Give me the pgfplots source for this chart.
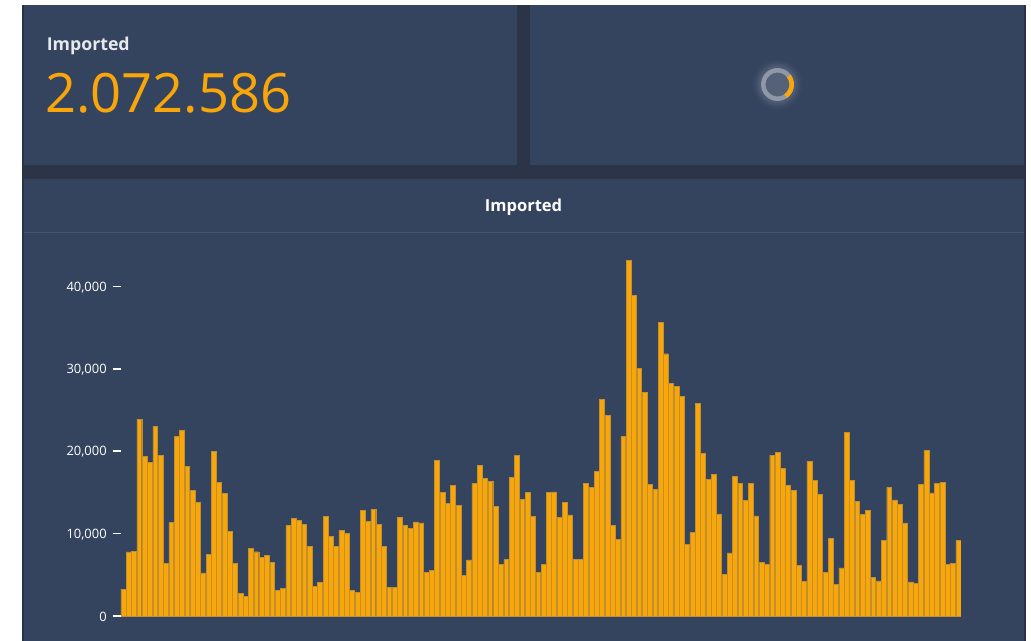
\documentclass[border=0pt]{standalone}
\usepackage{fontspec}
\setmainfont{Open Sans}
\usepackage{pgfplots}
\usepackage{pgfplotstable}
\pgfplotsset{compat=1.18}
\definecolor{panel}{HTML}{34435E}
\definecolor{gapdark}{HTML}{2C3547}
\definecolor{edgedark}{HTML}{2A3345}
\definecolor{rule}{HTML}{465570}
\definecolor{barfill}{HTML}{F9A60B}
\definecolor{baredge}{HTML}{C08F30}

\pgfplotstableread{
n v
1 3277
2 7770
3 7850
4 23900
5 19400
6 18650
7 23060
8 19460
9 6430
10 11330
11 21760
12 22570
13 18120
14 15290
15 13750
16 5220
17 7520
18 20020
19 16260
20 14850
21 10270
22 6350
23 2790
24 2350
25 8170
26 7800
27 7080
28 7320
29 6550
30 3155
31 3320
32 11040
33 11890
34 11570
35 11080
36 8410
37 3640
38 4045
39 12090
40 9670
41 8450
42 10400
43 10030
44 3115
45 2830
46 12780
47 11490
48 12940
49 11120
50 8410
51 3520
52 3440
53 11970
54 10960
55 10680
56 11410
57 11290
58 5260
59 5580
60 18890
61 15010
62 13670
63 15820
64 13430
65 4890
66 6800
67 16140
68 18320
69 16670
70 16300
71 13310
72 6230
73 6840
74 16870
75 19500
76 14120
77 14970
78 12090
79 5260
80 6310
81 15010
82 15050
83 12010
84 13790
85 12260
86 6840
87 6840
88 16140
89 15610
90 17510
91 26330
92 24350
93 10960
94 9260
95 21760
96 43170
97 38920
98 30020
99 27100
100 15980
101 15410
102 35680
103 31830
104 28240
105 27910
106 26660
107 8660
108 10150
109 25850
110 19700
111 16580
112 17190
113 12380
114 5020
115 7650
116 16990
117 16100
118 14000
119 16100
120 12140
121 6470
122 6230
123 19540
124 19900
125 17920
126 15820
127 15210
128 6190
129 4170
130 18730
131 16500
132 14720
133 5300
134 9380
135 3840
136 5830
137 22290
138 16500
139 13870
140 12300
141 12860
142 4650
143 4250
144 9140
145 15650
146 14080
147 13550
148 11290
149 4130
150 3920
151 15940
152 20060
153 14930
154 16100
155 16180
156 6310
157 6350
158 9220
}\imported

\begin{document}
\begin{tikzpicture}
% x and y in this scope are screen pixels of the reference, y going down
\begin{scope}[x=0.75pt,y=-0.75pt]
\useasboundingbox (0,0) rectangle (1031,641);
\fill[white] (0,0) rectangle (1031,641);
\fill[edgedark] (22,5) rectangle (1026,641);
\fill[gapdark] (24,5) rectangle (1024,179);
% panels
\fill[panel] (24,5) rectangle (517,165);
\fill[panel] (530,5) rectangle (1024,165);
\fill[panel] (24,179) rectangle (1024,641);
\draw[rule, line width=0.75pt] (24,232.5) -- (1024,232.5);

% big number panel
\node[anchor=base west, inner sep=0pt, text=white!88!panel, font=\fontsize{13.3pt}{15pt}\selectfont\bfseries] at (46.5,51) {Imported};
\node[anchor=base west, inner sep=0pt, text=barfill, font=\fontsize{40.7pt}{44pt}\selectfont] at (45,113) {2.072.586};

% spinner
\foreach \r/\o in {25/0.02,23/0.03,21/0.04,19/0.05}
  \fill[white, opacity=\o] (777.5,84.5) circle[radius=\r*0.75pt];
\fill[white!16!panel] (777.5,84.5) circle[radius=14*0.75pt];
\draw[white!45!panel, line width=3.4pt] (777.5,84.5) circle[radius=14.2*0.75pt];
\draw[barfill, line width=3.4pt] ({777.5+14.2*cos(55)},{84.5+14.2*sin(55)}) arc[start angle=-55, end angle=37, radius=14.2*0.75pt];

% chart header
\node[text=white, font=\fontsize{12.4pt}{15pt}\selectfont\bfseries] at (523.5,207.5) {Imported};
\end{scope}

\begin{axis}[
    at={(90.525pt,-462pt)}, anchor=south west,
    scale only axis,
    width=630.2pt, height=271.9pt,
    xmin=0.5, xmax=158.5,
    ymin=0, ymax=44000,
    axis line style={draw=none},
    xtick=\empty,
    ytick={0,10000,20000,30000,40000},
    ytick pos=left,
    tick align=outside,
    major tick length=6pt,
    tick style={white, line width=1.2pt},
    y tick label style={white, font=\fontsize{9.7pt}{11pt}\selectfont, xshift=-1pt, yshift=-0.6pt},
    scaled y ticks=false,
    /pgf/number format/assume math mode=true,
    /pgf/number format/1000 sep={,},
]
\addplot[ybar, bar width=3.65pt, bar shift=0pt, fill=barfill, draw=baredge, line width=0.35pt] table[x=n, y=v] {\imported};
\end{axis}
\end{tikzpicture}
\end{document}
